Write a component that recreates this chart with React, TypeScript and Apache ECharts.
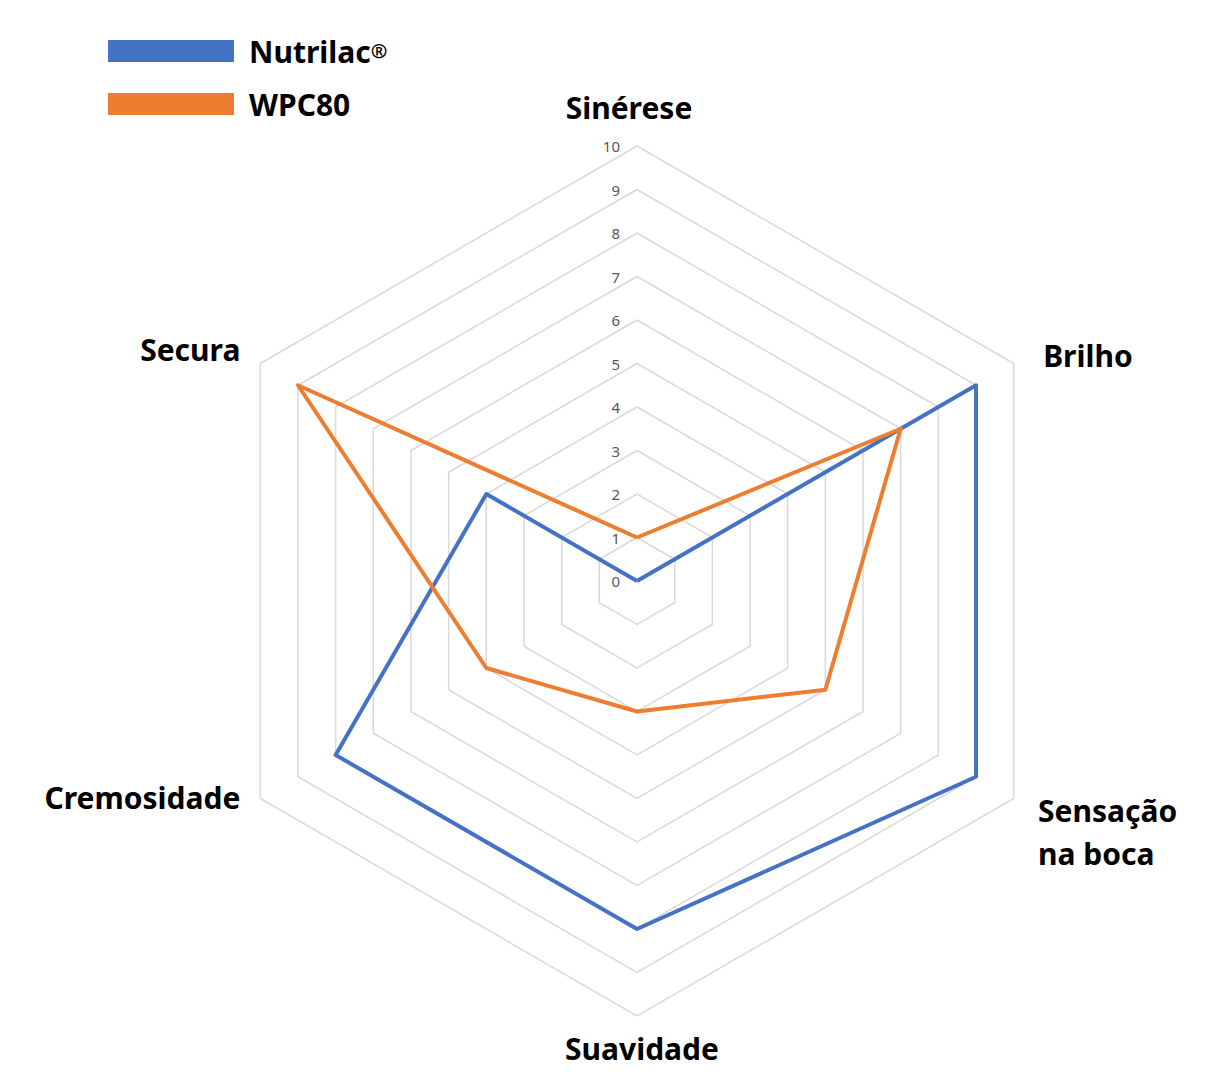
import React, { useEffect, useRef } from "react";
import * as echarts from "echarts";

// Listed clockwise starting at the top, as in the reference
const indicatorNames = ["Sinérese", "Brilho", "Sensação\nna boca", "Suavidade", "Cremosidade", "Secura"];
const nutrilacValues = [0, 9, 9, 8, 8, 4];
const wpc80Values = [1, 7, 5, 3, 4, 9];
const seriesNames = ["Nutrilac®", "WPC80"];
const axisMax = 10;

const FONT = "'Noto Sans', 'Open Sans', sans-serif";

// ECharts radar goes counter-clockwise; reorder so the drawing is clockwise
const order = [0, 5, 4, 3, 2, 1];
const reorder = <T,>(arr: T[]) => order.map((i) => arr[i]);

export default function App() {
  const ref = useRef<HTMLDivElement>(null);
  useEffect(() => {
    document.body.style.margin = "0";
    if (!ref.current) return;
    const chart = echarts.init(ref.current, null, { renderer: "svg" });
    // styling per indicator, in the clockwise (original) order
    const nameGaps = [24, 34, 28, 17, 23, 23];
    const nameFormat = (name: string) => {
      const i = indicatorNames.indexOf(name);
      const lines = name.split("\n");
      switch (i) {
        case 0:
          return `{tS|${name}}`;
        case 1:
          return `{g17| }\n{t|${name}}`;
        case 2:
          return `{g39| }\n` + lines.map((l) => `{t2|${l}}`).join("\n");
        case 3:
          return `{tB|${name}}`;
        case 4:
          return `{t|${name}}\n{g26| }`;
        default:
          return `{t|${name}}\n{g6| }`;
      }
    };
    const base = { fontFamily: FONT, fontSize: 30, fontWeight: "bold", color: "#000000" };
    const indicators = indicatorNames.map((n, i) => ({
      name: n,
      min: 0,
      max: axisMax,
      nameGap: nameGaps[i],
      axisLabel:
        i === 0
          ? {
              show: true,
              color: "#595959",
              fontSize: 15,
              fontFamily: FONT,
              margin: 17,
              showMinLabel: true,
              showMaxLabel: true,
            }
          : { show: false },
    }));
    chart.setOption({
      animation: false,
      backgroundColor: "#ffffff",
      legend: {
        orient: "vertical",
        left: 108,
        top: 36,
        padding: 0,
        icon: "rect",
        itemWidth: 126,
        itemHeight: 22,
        itemGap: 23,
        data: seriesNames,
        formatter: (name: string) =>
          name.endsWith("®") ? name.slice(0, -1) + "{sup|®}" : name,
        textStyle: {
          ...base,
          lineHeight: 22,
          padding: [0, 0, 0, 10],
          rich: {
            sup: {
              ...base,
              fontSize: 20,
              verticalAlign: "top",
              padding: [0, 0, 16, 0],
            },
          },
        },
      },
      radar: {
        center: [637, 581],
        radius: 435,
        startAngle: 90,
        shape: "polygon",
        splitNumber: 10,
        axisName: {
          ...base,
          formatter: nameFormat,
          rich: {
            t: { ...base },
            tS: { ...base, padding: [0, 16, 0, 0] },
            tB: { ...base, padding: [0, 0, 0, 10] },
            t2: { ...base, lineHeight: 43 },
            g6: { fontSize: 1, lineHeight: 6 },
            g17: { fontSize: 1, lineHeight: 17 },
            g26: { fontSize: 1, lineHeight: 26 },
            g39: { fontSize: 1, lineHeight: 39 },
          },
        },
        axisLine: { show: false },
        axisTick: { show: false },
        axisLabel: { show: false },
        splitArea: { show: false },
        splitLine: { lineStyle: { color: "#d9d9d9", width: 1.5 } },
        indicator: reorder(indicators),
      },
      series: [
        {
          type: "radar",
          symbol: "none",
          data: [
            {
              name: seriesNames[0],
              value: reorder(nutrilacValues),
              lineStyle: { color: "#4472C4", width: 4 },
              itemStyle: { color: "#4472C4" },
            },
            {
              name: seriesNames[1],
              value: reorder(wpc80Values),
              lineStyle: { color: "#ED7D31", width: 4 },
              itemStyle: { color: "#ED7D31" },
            },
          ],
        },
      ],
    });
    return () => chart.dispose();
  }, []);
  return <div ref={ref} style={{ width: 1225, height: 1080 }} />;
}
